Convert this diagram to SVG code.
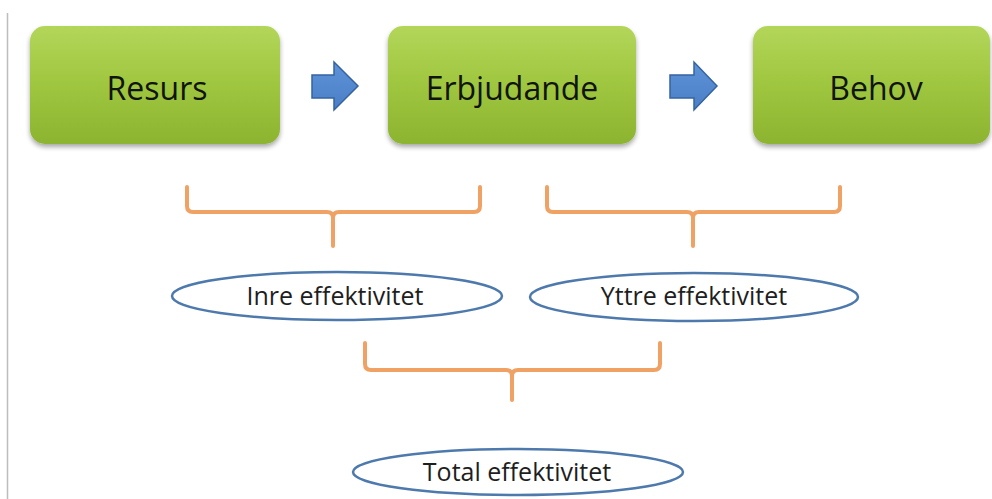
<svg xmlns="http://www.w3.org/2000/svg" width="992" height="499" viewBox="0 0 992 499">
<style>
.box{fill:url(#g);filter:url(#sh)}
.bt{font-family:"Open Sans","Liberation Sans",sans-serif;font-size:32px;fill:#10140c;text-anchor:middle}
.arr{fill:url(#b);stroke:#3563a0;stroke-width:1.5;stroke-linejoin:miter}
.br{fill:none;stroke:#f0a264;stroke-width:4;stroke-linecap:round;stroke-linejoin:round}
.el{fill:#fff;stroke:#4d79ad;stroke-width:2.5}
.et{font-family:"Open Sans","Liberation Sans",sans-serif;font-size:25px;fill:#1e1e1e;text-anchor:middle}
</style>
<defs>
<linearGradient id="g" x1="0" y1="0" x2="0" y2="1">
<stop offset="0" stop-color="#b3d65a"/>
<stop offset="0.5" stop-color="#9fc63f"/>
<stop offset="1" stop-color="#8db430"/>
</linearGradient>
<linearGradient id="b" x1="0" y1="0" x2="0" y2="1">
<stop offset="0" stop-color="#5e93d8"/>
<stop offset="1" stop-color="#4a7fc6"/>
</linearGradient>
<filter id="sh" x="-10%" y="-10%" width="120%" height="130%">
<feGaussianBlur in="SourceAlpha" stdDeviation="2.5"/>
<feOffset dx="0" dy="3" result="o"/>
<feComponentTransfer><feFuncA type="linear" slope="0.35"/></feComponentTransfer>
<feMerge><feMergeNode/><feMergeNode in="SourceGraphic"/></feMerge>
</filter>
</defs>
<rect width="992" height="499" fill="#fff"/>
<line x1="7.5" y1="13" x2="7.5" y2="499" stroke="#bdbdbd" stroke-width="1.5"/>
<g id="resurs">
<rect class="box" x="30" y="26" width="250" height="118" rx="15"/>
<text class="bt" x="157" y="100">Resurs</text>
</g>
<g id="erbjudande">
<rect class="box" x="388" y="26" width="248" height="118" rx="15"/>
<text class="bt" x="512" y="100">Erbjudande</text>
</g>
<g id="behov">
<rect class="box" x="753" y="26" width="237" height="118" rx="15"/>
<text class="bt" x="876" y="100">Behov</text>
</g>
<g id="connectors">
<polygon class="arr" points="312,75 334,75 334,62 358,86 334,110 334,98 312,98"/>
<polygon class="arr" points="670,75 694,75 694,62 717,86 694,110 694,98 670,98"/>
<path class="br" d="M187,187 V206 Q187,212 193,212 H327 Q333,212 333,218 V246 M333,218 Q333,212 339,212 H474 Q480,212 480,206 V187"/>
<path class="br" d="M547,187 V206 Q547,212 553,212 H687 Q693,212 693,218 V246 M693,218 Q693,212 699,212 H834 Q840,212 840,206 V187"/>
<path class="br" d="M365,343 V364 Q365,370 371,370 H506 Q512,370 512,376 V400 M512,376 Q512,370 518,370 H654 Q660,370 660,364 V343"/>
</g>
<g id="inre">
<ellipse class="el" cx="337" cy="296" rx="165" ry="24"/>
<text class="et" x="335" y="305">Inre effektivitet</text>
</g>
<g id="yttre">
<ellipse class="el" cx="694" cy="297" rx="164" ry="24"/>
<text class="et" x="694" y="305">Yttre effektivitet</text>
</g>
<g id="total">
<ellipse class="el" cx="518" cy="472" rx="165" ry="23"/>
<text class="et" x="517" y="481">Total effektivitet</text>
</g>
</svg>
